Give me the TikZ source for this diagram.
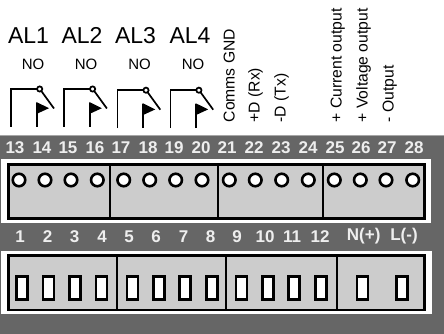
\documentclass[tikz,border=0pt]{standalone}
\usepackage{fontspec}
\setmainfont{Liberation Sans}
\definecolor{band}{HTML}{666666}
\definecolor{panel}{HTML}{CCCCCC}
\definecolor{numc}{HTML}{EEEEEE}
\tikzset{
  x=1pt,y=-1pt,
  num/.style={font=\fontsize{17}{17}\selectfont\bfseries,text=numc,inner sep=0pt,anchor=center},
  alname/.style={font=\fontsize{23}{23}\selectfont,inner sep=0pt,anchor=center},
  nolab/.style={font=\fontsize{15}{15}\selectfont,inner sep=0pt,anchor=center},
  vlab/.style={font=\fontsize{15.7}{15.7}\selectfont,inner sep=0pt,rotate=90,anchor=base west},
  frame/.style={fill=white,draw=none},
  panelbox/.style={fill=panel,draw=black,line width=2.4pt},
  divider/.style={draw=black,line width=2pt},
  hole/.style={circle,fill=white,draw=black,line width=2.6pt,minimum size=12.5pt,inner sep=0pt},
  slot/.style={rectangle,fill=white,draw=black,line width=2.6pt,minimum width=11pt,minimum height=22.5pt,inner sep=0pt},
  wire/.style={draw=black,line width=1.7pt},
}
\newcommand{\switchsym}[2]{%
  \begin{scope}[shift={(#1,#2)}]
    \draw[wire] (11.3,127) -- (11.3,88.8) -- (37,88.8);
    \draw[wire] (39.7,89) circle (2.6);
    \draw[wire] (41.3,91) -- (54,108.5);
    \draw[wire] (37,127) -- (37,103);
    \fill (36.4,102) -- (49,108.2) -- (36.4,114) -- cycle;
  \end{scope}}
\begin{document}
\begin{tikzpicture}
\useasboundingbox (0,0) rectangle (444,334);
\fill[white] (0,0) rectangle (444,334);
\fill[band] (0,135) rectangle (444,334);
\draw[gray!70,line width=.6pt] (0,135) -- (444,135);
% upper terminal block
\fill[frame] (1,159) rectangle (431,223);
\draw[panelbox] (8.5,164.5) rectangle (424.5,218.5);
\foreach \x in {110,217.5,323} \draw[divider] (\x,164.5) -- (\x,218.5);
\foreach \x [count=\i] in {19,45,71,97.3,123.7,149.7,175.7,202,229.3,255.3,281.7,308.3,334.3,360.3,386,412.7}
  \node[hole] (h\i) at (\x,180) {};
% lower terminal block
\fill[frame] (1,250.5) rectangle (432,313.5);
\draw[panelbox] (8.5,255.5) rectangle (424.5,310);
\foreach \x in {117,226,337} \draw[divider] (\x,255.5) -- (\x,310);
\foreach \x [count=\i] in {22,48.3,75,101.3,132.3,159,185,212,241.3,267.7,294,320.7,362.3,401.7}
  \node[slot] (s\i) at (\x,288) {};
% numbers
\foreach \n/\x in {13/15,14/42,15/68,16/95,17/121,18/148,19/174,20/201,21/227,22/254,23/281,24/308,25/335,26/361,27/387,28/414}
  \node[num] (n\n) at (\x,147.5) {\n};
\foreach \n/\x in {1/20,2/47.5,3/74.5,4/102,5/129,6/156,7/183.5,8/210.5,9/237,10/265,11/292,12/320}
  \node[num] (m\n) at (\x,237) {\n};
\node[num] (nplus) at (363.7,236) {N(+)};
\node[num] (lminus) at (404,236) {L(-)};
% alarm labels
\foreach \n/\x in {1/28.5,2/82,3/135.5,4/190}
  \node[alname] (al\n) at (\x,35.5) {AL\n};
\foreach \n/\x in {1/33,2/86,3/139.5,4/193}
  \node[nolab] (no\n) at (\x,64.5) {NO};
% switches
\switchsym{0}{0}
\switchsym{52.9}{0}
\switchsym{106.3}{1.2}
\switchsym{159.2}{1.2}
% rotated labels
\node[vlab] (v1) at (234.5,122.5) {Comms GND};
\node[vlab] (v2) at (259.5,122.5) {+D (Rx)};
\node[vlab] (v3) at (285.5,122.5) {-D (Tx)};
\node[vlab] (v4) at (341.5,122.5) {+ Current output};
\node[vlab] (v5) at (367.5,122.5) {+ Voltage output};
\node[vlab] (v6) at (393.5,122.5) {- Output};
\end{tikzpicture}
\end{document}
